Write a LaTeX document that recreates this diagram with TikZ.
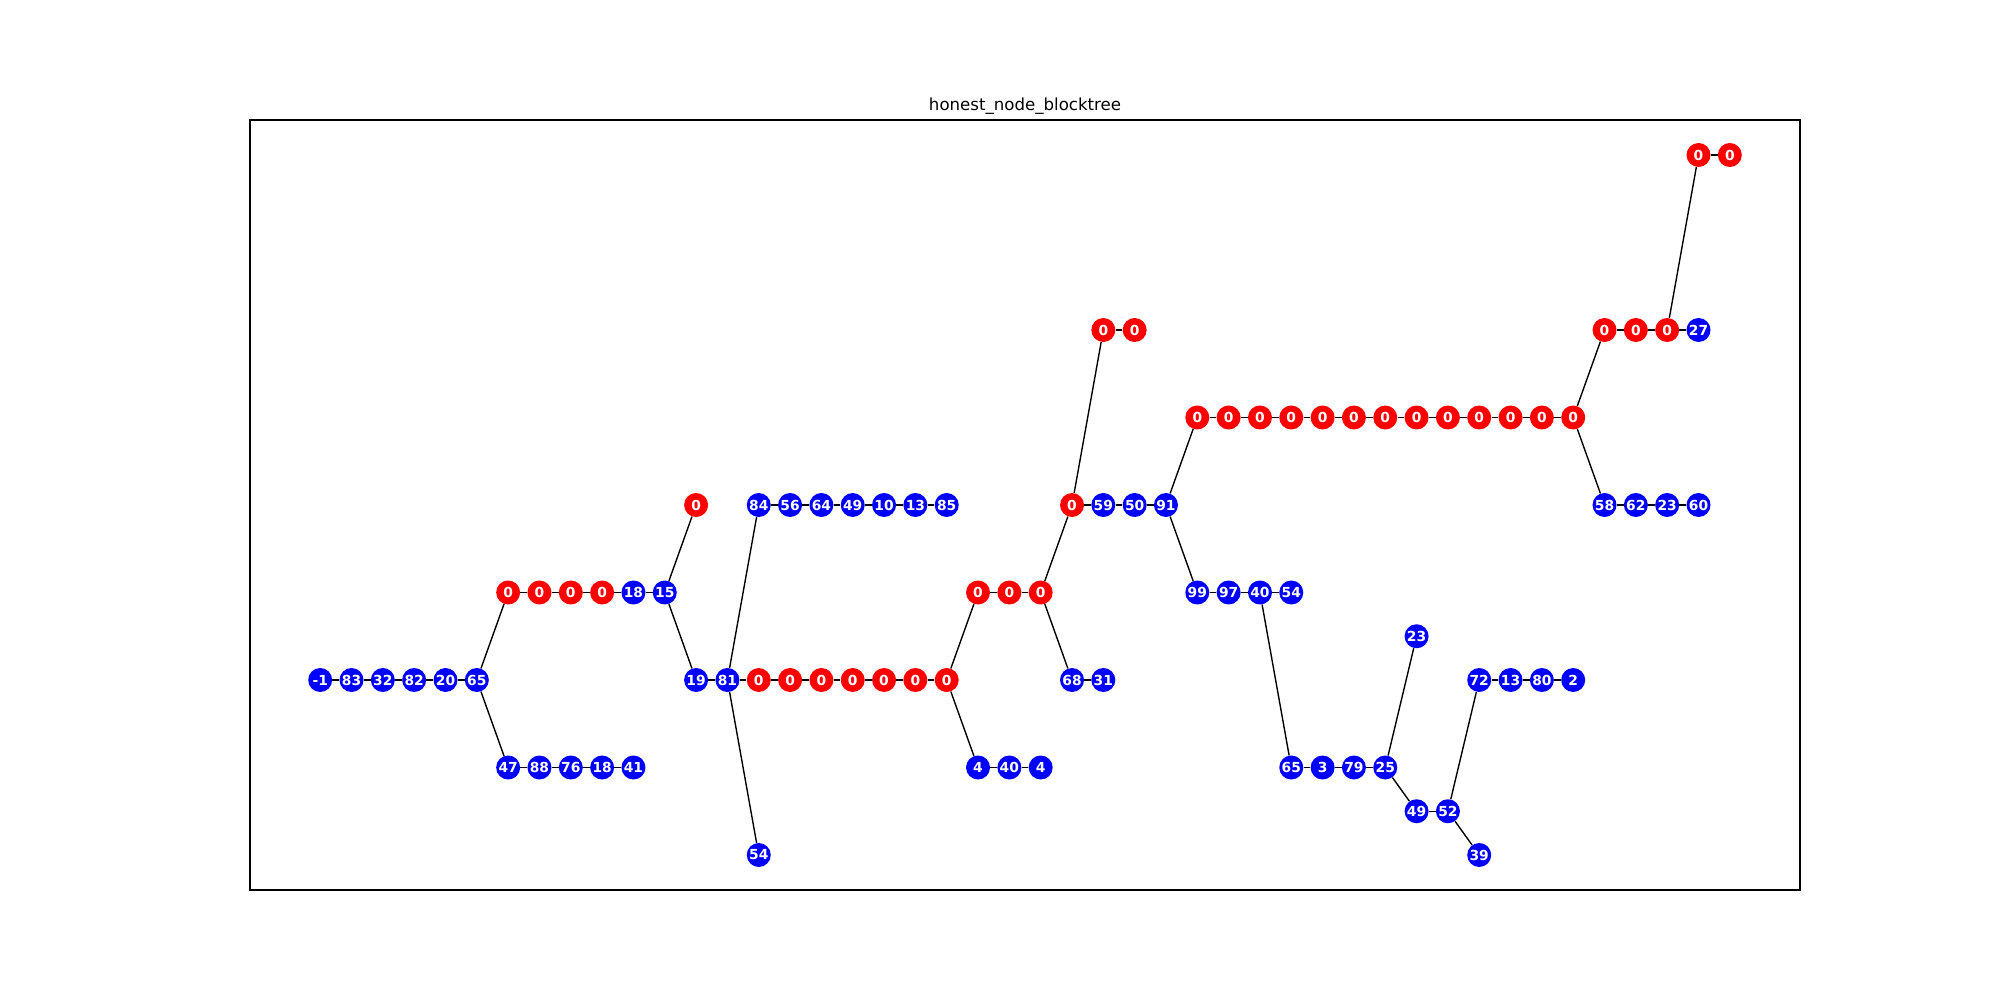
\documentclass[tikz,border=0pt]{standalone}
\usepackage{fontspec}
\setmainfont{DejaVu Sans}
\usetikzlibrary{backgrounds}
\tikzset{
  gnode/.style={circle, inner sep=0pt, minimum size=0.6096cm, text=white, font=\fontsize{10}{11}\selectfont\bfseries},
  rn/.style={gnode, fill={rgb,255:red,255;green,0;blue,0}},
  bn/.style={gnode, fill={rgb,255:red,0;green,0;blue,255}},
  edge/.style={draw=black, line width=1pt},
}
\newcommand\nd[5]{\node[#1] (#2) at ({320.2+31.325*(#3)},{155+87.5*(#4)}) {#5};}
\begin{document}
\begin{tikzpicture}[x=0.0254cm, y=-0.0254cm]
\useasboundingbox (0,0) rectangle (2000,1000);
\draw[line width=0.8pt] (250,120) rectangle (1800,890);
\node[anchor=base, font=\fontsize{12}{14}\selectfont] (title) at (1025,111) {honest\_node\_blocktree};
% row 6
\nd{bn}{a0}{0}{6}{-1}
\nd{bn}{a1}{1}{6}{83}
\nd{bn}{a2}{2}{6}{32}
\nd{bn}{a3}{3}{6}{82}
\nd{bn}{a4}{4}{6}{20}
\nd{bn}{a5}{5}{6}{65}
\nd{bn}{b0}{12}{6}{19}
\nd{bn}{b1}{13}{6}{81}
\nd{rn}{b2}{14}{6}{0}
\nd{rn}{b3}{15}{6}{0}
\nd{rn}{b4}{16}{6}{0}
\nd{rn}{b5}{17}{6}{0}
\nd{rn}{b6}{18}{6}{0}
\nd{rn}{b7}{19}{6}{0}
\nd{rn}{b8}{20}{6}{0}
\nd{bn}{c0}{24}{6}{68}
\nd{bn}{c1}{25}{6}{31}
\nd{bn}{d0}{37}{6}{72}
\nd{bn}{d1}{38}{6}{13}
\nd{bn}{d2}{39}{6}{80}
\nd{bn}{d3}{40}{6}{2}
% row 5
\nd{rn}{e0}{6}{5}{0}
\nd{rn}{e1}{7}{5}{0}
\nd{rn}{e2}{8}{5}{0}
\nd{rn}{e3}{9}{5}{0}
\nd{bn}{e4}{10}{5}{18}
\nd{bn}{e5}{11}{5}{15}
\nd{rn}{f0}{21}{5}{0}
\nd{rn}{f1}{22}{5}{0}
\nd{rn}{f2}{23}{5}{0}
\nd{bn}{g0}{28}{5}{99}
\nd{bn}{g1}{29}{5}{97}
\nd{bn}{g2}{30}{5}{40}
\nd{bn}{g3}{31}{5}{54}
% row 7
\nd{bn}{h0}{6}{7}{47}
\nd{bn}{h1}{7}{7}{88}
\nd{bn}{h2}{8}{7}{76}
\nd{bn}{h3}{9}{7}{18}
\nd{bn}{h4}{10}{7}{41}
\nd{bn}{i0}{21}{7}{4}
\nd{bn}{i1}{22}{7}{40}
\nd{bn}{i2}{23}{7}{4}
\nd{bn}{j0}{31}{7}{65}
\nd{bn}{j1}{32}{7}{3}
\nd{bn}{j2}{33}{7}{79}
\nd{bn}{j3}{34}{7}{25}
% row 4
\nd{rn}{p0}{12}{4}{0}
\nd{bn}{q0}{14}{4}{84}
\nd{bn}{q1}{15}{4}{56}
\nd{bn}{q2}{16}{4}{64}
\nd{bn}{q3}{17}{4}{49}
\nd{bn}{q4}{18}{4}{10}
\nd{bn}{q5}{19}{4}{13}
\nd{bn}{q6}{20}{4}{85}
\nd{rn}{r0}{24}{4}{0}
\nd{bn}{r1}{25}{4}{59}
\nd{bn}{r2}{26}{4}{50}
\nd{bn}{r3}{27}{4}{91}
\nd{bn}{s0}{41}{4}{58}
\nd{bn}{s1}{42}{4}{62}
\nd{bn}{s2}{43}{4}{23}
\nd{bn}{s3}{44}{4}{60}
% row 3
\foreach \i in {0,...,12} {\nd{rn}{t\i}{28+\i}{3}{0}}
% row 2
\nd{rn}{u0}{25}{2}{0}
\nd{rn}{u1}{26}{2}{0}
\nd{rn}{v0}{41}{2}{0}
\nd{rn}{v1}{42}{2}{0}
\nd{rn}{v2}{43}{2}{0}
\nd{bn}{v3}{44}{2}{27}
% row 0
\nd{rn}{w0}{44}{0}{0}
\nd{rn}{w1}{45}{0}{0}
% half rows
\nd{bn}{x0}{35}{5.5}{23}
\nd{bn}{y0}{35}{7.5}{49}
\nd{bn}{y1}{36}{7.5}{52}
\nd{bn}{z0}{14}{8}{54}
\nd{bn}{z1}{37}{8}{39}
% edges
\begin{scope}[on background layer]
\draw[edge] (a0)--(a1)--(a2)--(a3)--(a4)--(a5);
\draw[edge] (a5)--(e0); \draw[edge] (a5)--(h0);
\draw[edge] (e0)--(e1)--(e2)--(e3)--(e4)--(e5);
\draw[edge] (e5)--(p0); \draw[edge] (e5)--(b0);
\draw[edge] (b0)--(b1)--(b2)--(b3)--(b4)--(b5)--(b6)--(b7)--(b8);
\draw[edge] (b1)--(q0); \draw[edge] (b1)--(z0);
\draw[edge] (q0)--(q1)--(q2)--(q3)--(q4)--(q5)--(q6);
\draw[edge] (b8)--(f0); \draw[edge] (b8)--(i0);
\draw[edge] (f0)--(f1)--(f2);
\draw[edge] (f2)--(r0); \draw[edge] (f2)--(c0);
\draw[edge] (c0)--(c1);
\draw[edge] (r0)--(r1)--(r2)--(r3);
\draw[edge] (r0)--(u0); \draw[edge] (u0)--(u1);
\draw[edge] (r3)--(t0); \draw[edge] (r3)--(g0);
\draw[edge] (t0)--(t1)--(t2)--(t3)--(t4)--(t5)--(t6)--(t7)--(t8)--(t9)--(t10)--(t11)--(t12);
\draw[edge] (g0)--(g1)--(g2)--(g3);
\draw[edge] (g2)--(j0);
\draw[edge] (j0)--(j1)--(j2)--(j3);
\draw[edge] (j3)--(x0); \draw[edge] (j3)--(y0);
\draw[edge] (y0)--(y1);
\draw[edge] (y1)--(d0); \draw[edge] (y1)--(z1);
\draw[edge] (d0)--(d1)--(d2)--(d3);
\draw[edge] (t12)--(v0); \draw[edge] (t12)--(s0);
\draw[edge] (v0)--(v1)--(v2)--(v3);
\draw[edge] (v2)--(w0); \draw[edge] (w0)--(w1);
\draw[edge] (s0)--(s1)--(s2)--(s3);
\draw[edge] (h0)--(h1)--(h2)--(h3)--(h4);
\draw[edge] (i0)--(i1)--(i2);
\end{scope}
\end{tikzpicture}
\end{document}
